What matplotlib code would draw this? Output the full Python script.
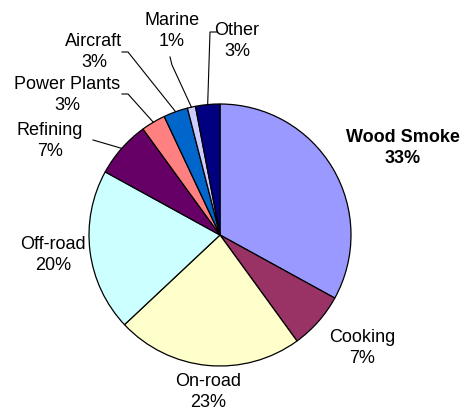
import numpy as np
import matplotlib.pyplot as plt

plt.rcParams['font.family'] = ['Liberation Sans', 'DejaVu Sans']

categories = ['Wood Smoke', 'Cooking', 'On-road', 'Off-road', 'Refining',
              'Power Plants', 'Aircraft', 'Marine', 'Other']
shares = [33, 7, 23, 20, 7, 3, 3, 1, 3]
colors = ['#9999FF', '#993366', '#FFFFCC', '#CCFFFF', '#660066',
          '#FF8080', '#0066CC', '#CCCCFF', '#000080']

W, H = 465, 415
cx, cy, r = 220, 235, 131

fig = plt.figure(figsize=(W / 100, H / 100), dpi=100)
ax = fig.add_axes([0, 0, 1, 1])
ax.axis('off')

wedges, _ = ax.pie(shares, colors=colors, startangle=90, counterclock=False,
                   center=(cx, H - cy), radius=r,
                   wedgeprops=dict(edgecolor='black', linewidth=0.9))
ax.set_xlim(0, W)
ax.set_ylim(0, H)
ax.set_aspect('equal')

# label centres (pixels from top-left) and leader line elbows
label_pos = {
    'Wood Smoke': (403, 148),
    'Cooking': (362, 348),
    'On-road': (208, 392),
    'Off-road': (53, 255),
    'Refining': (50, 141),
    'Power Plants': (67, 95),
    'Aircraft': (94, 52),
    'Marine': (172, 31),
    'Other': (237, 41),
}
leaders = {
    'Refining': [(93, 140)],
    'Power Plants': [(122, 94), (128, 94)],
    'Aircraft': [(122, 52), (128, 52)],
    'Marine': [(170, 57), (172, 65)],
    'Other': [(217, 32), (210, 32)],
}

for w, name, val in zip(wedges, categories, shares):
    x, y = label_pos[name]
    ax.text(x, H - y, f'{name}\n{val}%', ha='center', va='center',
            fontsize=13, linespacing=1.3,
            fontweight='bold' if name == 'Wood Smoke' else 'normal')
    if name in leaders:
        mid = np.deg2rad((w.theta1 + w.theta2) / 2)
        ex, ey = cx + r * np.cos(mid), (H - cy) + r * np.sin(mid)
        pts = [(px, H - py) for px, py in leaders[name]] + [(ex, ey)]
        xs, ys = zip(*pts)
        ax.plot(xs, ys, color='black', linewidth=0.8)

fig.savefig('out.png', dpi=100)
